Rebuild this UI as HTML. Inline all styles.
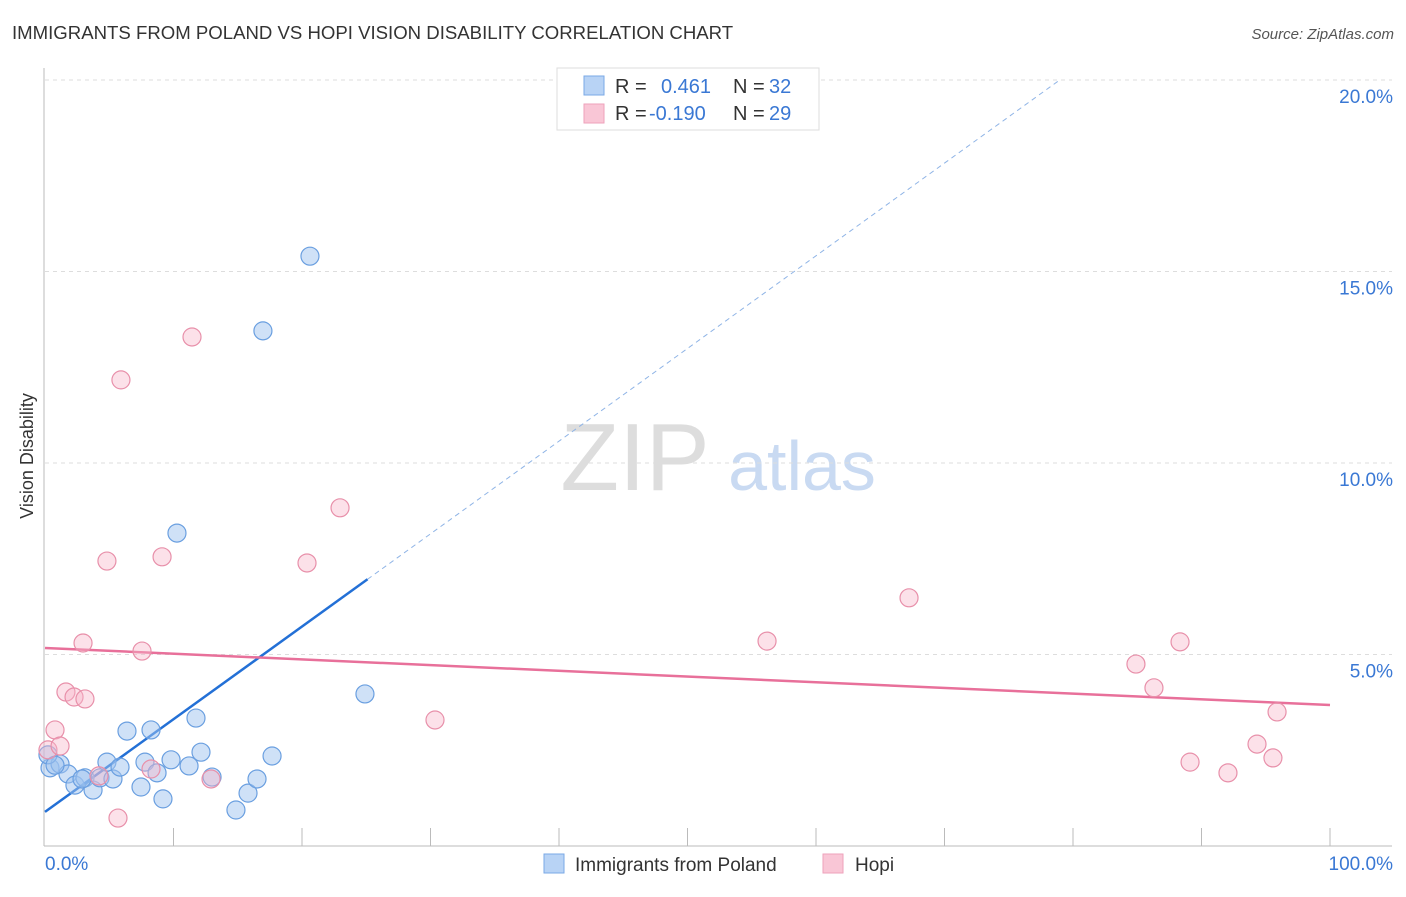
<!DOCTYPE html>
<html><head><meta charset="utf-8"><style>
body{margin:0;background:#fff;font-family:"Liberation Sans",sans-serif;}
svg text{font-family:"Liberation Sans",sans-serif;}
</style></head><body>
<svg id="chart" width="1406" height="892" xmlns="http://www.w3.org/2000/svg">
<text x="12" y="39" font-size="18.6" fill="#333">IMMIGRANTS FROM POLAND VS HOPI VISION DISABILITY CORRELATION CHART</text>
<text x="1394" y="39" font-size="15" fill="#555" font-style="italic" text-anchor="end">Source: ZipAtlas.com</text>
<text x="33" y="456" font-size="18" fill="#333" text-anchor="middle" transform="rotate(-90 33 456)">Vision Disability</text>
<g>
<text x="635" y="490" font-size="96" fill="#ddd" font-family="Liberation Serif" text-anchor="middle">ZIP</text>
<text x="802" y="490" font-size="70" fill="#c9daf2" text-anchor="middle">atlas</text>
</g>
<g id="grid"></g><g id="axes"></g><g id="trends"></g><g id="points"></g>
<g>
<rect x="557" y="68" width="262" height="62" fill="#fff" stroke="#ddd"/>
<rect x="584" y="76" width="20" height="19" fill="#b8d3f5" stroke="#7aa8e6"/>
<rect x="584" y="104" width="20" height="19" fill="#f9c6d6" stroke="#eea2bb"/>
<text x="615" y="93" font-size="20" fill="#333">R =</text>
<text x="661" y="93" font-size="20" fill="#3a78d4">0.461</text>
<text x="733" y="93" font-size="20" fill="#333">N =</text>
<text x="769" y="93" font-size="20" fill="#3a78d4">32</text>
<text x="615" y="120" font-size="20" fill="#333">R =</text>
<text x="649" y="120" font-size="20" fill="#3a78d4">-0.190</text>
<text x="733" y="120" font-size="20" fill="#333">N =</text>
<text x="769" y="120" font-size="20" fill="#3a78d4">29</text>
</g>
<g>
<rect x="544" y="854" width="20" height="19" fill="#b8d3f5" stroke="#7aa8e6"/>
<text x="575" y="871" font-size="19" fill="#333">Immigrants from Poland</text>
<rect x="823" y="854" width="20" height="19" fill="#f9c6d6" stroke="#eea2bb"/>
<text x="855" y="871" font-size="19" fill="#333">Hopi</text>
</g>
</svg>
<script>
const yTicks=[5,10,15,20];
const yTickLabels=["5.0%","10.0%","15.0%","20.0%"];
const xTickLabels=["0.0%","100.0%"];
const polandX=[0.39,1.17,0.23,1.79,2.33,3.11,3.74,4.28,4.82,5.29,5.84,6.38,7.78,8.25,8.72,7.47,9.18,9.81,11.21,11.75,12.14,13.00,14.86,15.80,16.50,17.67,16.96,20.62,10.27,24.90,0.78,2.88];
const polandY=[2.04,2.14,2.38,1.88,1.59,1.78,1.46,1.78,2.19,1.75,2.06,3.00,2.19,3.03,1.91,1.54,1.23,2.25,2.09,3.34,2.45,1.80,0.94,1.38,1.75,2.35,13.45,15.40,8.17,3.97,2.11,1.75];
const hopiX=[0.23,0.78,1.17,1.63,2.26,3.11,2.96,4.82,5.91,7.55,9.11,11.44,8.25,4.20,5.68,12.92,20.39,22.96,30.35,56.19,67.24,84.90,86.30,88.33,89.11,92.06,94.32,95.56,95.88];
const hopiY=[2.51,3.03,2.61,4.02,3.89,3.84,5.30,7.44,12.17,5.09,7.55,13.29,2.01,1.83,0.73,1.75,7.39,8.83,3.29,5.35,6.48,4.75,4.13,5.33,2.19,1.91,2.66,2.30,3.50];
const polandTrend=[0.89,0.242];
const hopiTrend=[5.17,-0.0149];
const polandSolidEnd=25.1, polandDashEnd=79;

const NS="http://www.w3.org/2000/svg";
const X=v=>45+v*12.85, Y=v=>846-v*38.3;
function mk(tag,attrs,parent){const e=document.createElementNS(NS,tag);for(const k in attrs)e.setAttribute(k,attrs[k]);document.getElementById(parent).appendChild(e);return e;}
yTicks.forEach((t,i)=>{
 const g=mk('line',{x1:45,x2:1392,y1:Y(t),y2:Y(t),stroke:'#ddd','stroke-dasharray':'4,4'},'grid');
 
 
 const l=mk('text',{x:1393,y:Y(t)+23,'font-size':19,fill:'#3a78d4','text-anchor':'end'},'grid');
 l.textContent=yTickLabels[i];
 
 
});
let a=mk('line',{x1:44,x2:44,y1:68,y2:846,stroke:'#bbb'},'axes');


a=mk('line',{x1:44,x2:1392,y1:846,y2:846,stroke:'#bbb'},'axes');


for(let i=1;i<=10;i++){const tk=mk('line',{x1:X(i*10),x2:X(i*10),y1:828,y2:846,stroke:'#bbb'},'axes');
 
 }
let xl=mk('text',{x:45,y:870,'font-size':19,fill:'#3a78d4'},'axes');xl.textContent=xTickLabels[0];


xl=mk('text',{x:1393,y:870,'font-size':19,fill:'#3a78d4','text-anchor':'end'},'axes');xl.textContent=xTickLabels[1];


polandX.forEach((x,i)=>{const c=mk('circle',{cx:X(x),cy:Y(polandY[i]),r:9,fill:'rgba(160,196,240,0.5)',stroke:'#6a9fe0','stroke-width':1.2},'points');
 
 });
hopiX.forEach((x,i)=>{const c=mk('circle',{cx:X(x),cy:Y(hopiY[i]),r:9,fill:'rgba(248,180,200,0.4)',stroke:'#e890aa','stroke-width':1.2},'points');
 
 });
const pf=x=>polandTrend[0]+polandTrend[1]*x, hf=x=>hopiTrend[0]+hopiTrend[1]*x;
let tl=mk('line',{x1:X(0),y1:Y(pf(0)),x2:X(polandSolidEnd),y2:Y(pf(polandSolidEnd)),stroke:'#2370d6','stroke-width':2.5},'trends');


tl=mk('line',{x1:X(polandSolidEnd),y1:Y(pf(polandSolidEnd)),x2:X(polandDashEnd),y2:Y(pf(polandDashEnd)),stroke:'#8fb4e6','stroke-width':1,'stroke-dasharray':'5,4'},'trends');


tl=mk('line',{x1:X(0),y1:Y(hf(0)),x2:X(100),y2:Y(hf(100)),stroke:'#e8709a','stroke-width':2.5},'trends');


</script>
</body></html>
